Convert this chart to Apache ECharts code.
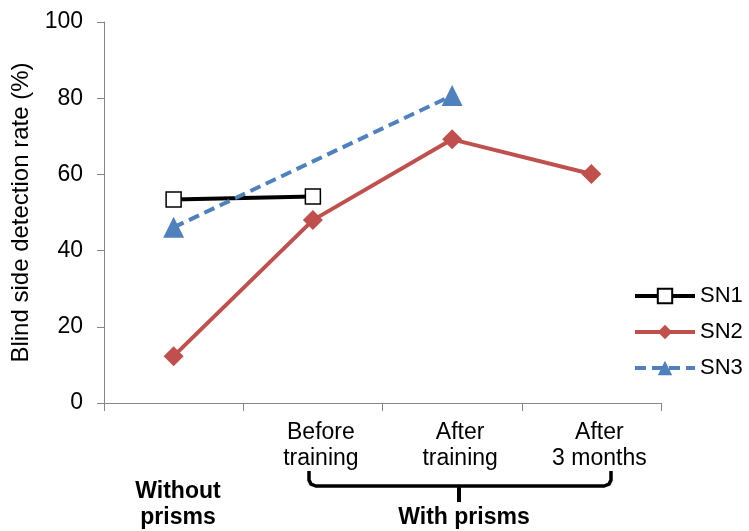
<!DOCTYPE html>
<html>
<head>
<meta charset="utf-8">
<script src="https://cdn.jsdelivr.net/npm/echarts@6/dist/echarts.min.js"></script>
<style>html,body{margin:0;padding:0;background:#fff;}#c{width:749px;height:531px;}</style>
</head>
<body>
<div id="c"></div>
<script>
var categories = ['', 'Before\ntraining', 'After\ntraining', 'After\n3 months'];
var sn1 = [53.4, 54.2, null, null];
var sn2 = [12.3, 48.0, 69.2, 60.1];
var sn3 = [46.1, null, 80.7, null];
var seriesNames = ['SN1', 'SN2', 'SN3'];
var yMin = 0, yMax = 100, yStep = 20;

var FONT = '"Liberation Sans", Arial, sans-serif';
var chart = echarts.init(document.getElementById('c'), null, {renderer: 'canvas'});
chart.setOption({
  animation: false,
  backgroundColor: '#ffffff',
  textStyle: {fontFamily: FONT},
  grid: {left: 104, right: 88, top: 22, bottom: 128, containLabel: false},
  legend: {
    orient: 'vertical', left: 628, top: 280,
    itemWidth: 60, itemHeight: 18, itemGap: 14,
    data: seriesNames,
    lineStyle: {width: 4},
    textStyle: {fontSize: 22, color: '#000', fontFamily: FONT}
  },
  xAxis: {
    type: 'category', data: categories, boundaryGap: true,
    axisLine: {lineStyle: {color: '#868686', width: 1}},
    axisTick: {show: true, length: 8, lineStyle: {color: '#868686'}},
    axisLabel: {color: '#000', fontSize: 23, lineHeight: 26, margin: 17, padding: [0, 0, 0, 16], interval: 0, fontFamily: FONT},
    splitLine: {show: false}
  },
  yAxis: {
    type: 'value', min: yMin, max: yMax, interval: yStep,
    name: 'Blind side detection rate (%)', nameLocation: 'middle', nameGap: 66,
    nameTextStyle: {fontSize: 24, color: '#000', fontFamily: FONT},
    axisLine: {show: true, lineStyle: {color: '#868686', width: 1}},
    axisTick: {show: true, length: 7, lineStyle: {color: '#868686'}},
    axisLabel: {color: '#000', fontSize: 23, margin: 21, fontFamily: FONT},
    splitLine: {show: false}
  },
  series: [
    {
      name: 'SN1', type: 'line', data: sn1, connectNulls: true,
      symbol: 'rect', symbolSize: 15,
      lineStyle: {color: '#000000', width: 4},
      itemStyle: {color: '#ffffff', borderColor: '#000000', borderWidth: 1.5},
      z: 3
    },
    {
      name: 'SN2', type: 'line', data: sn2, connectNulls: true,
      symbol: 'diamond', symbolSize: 20,
      lineStyle: {color: '#C0504D', width: 4},
      itemStyle: {color: '#C0504D'},
      z: 2
    },
    {
      name: 'SN3', type: 'line', data: sn3, connectNulls: true,
      symbol: 'triangle', symbolSize: 21,
      lineStyle: {color: '#4F81BD', width: 4, type: [11, 6]},
      itemStyle: {color: '#4F81BD'},
      z: 4
    }
  ],
  graphic: [
    {type: 'text', x: 178, y: 492, style: {text: 'Without', fontSize: 23, fontWeight: 'bold', fill: '#000', align: 'center', verticalAlign: 'middle', fontFamily: FONT}},
    {type: 'text', x: 178, y: 518, style: {text: 'prisms', fontSize: 23, fontWeight: 'bold', fill: '#000', align: 'center', verticalAlign: 'middle', fontFamily: FONT}},
    {type: 'polyline', shape: {points: [[309,471],[309,480],[311,484],[316,486],[604,486],[609,484],[611,480],[611,471]]}, style: {stroke: '#000', lineWidth: 3.5, fill: null}},
    {type: 'line', shape: {x1: 459, y1: 486, x2: 459, y2: 502}, style: {stroke: '#000', lineWidth: 4}},
    {type: 'text', x: 464, y: 518, style: {text: 'With prisms', fontSize: 23, fontWeight: 'bold', fill: '#000', align: 'center', verticalAlign: 'middle', fontFamily: FONT}}
  ]
});
</script>
</body>
</html>
